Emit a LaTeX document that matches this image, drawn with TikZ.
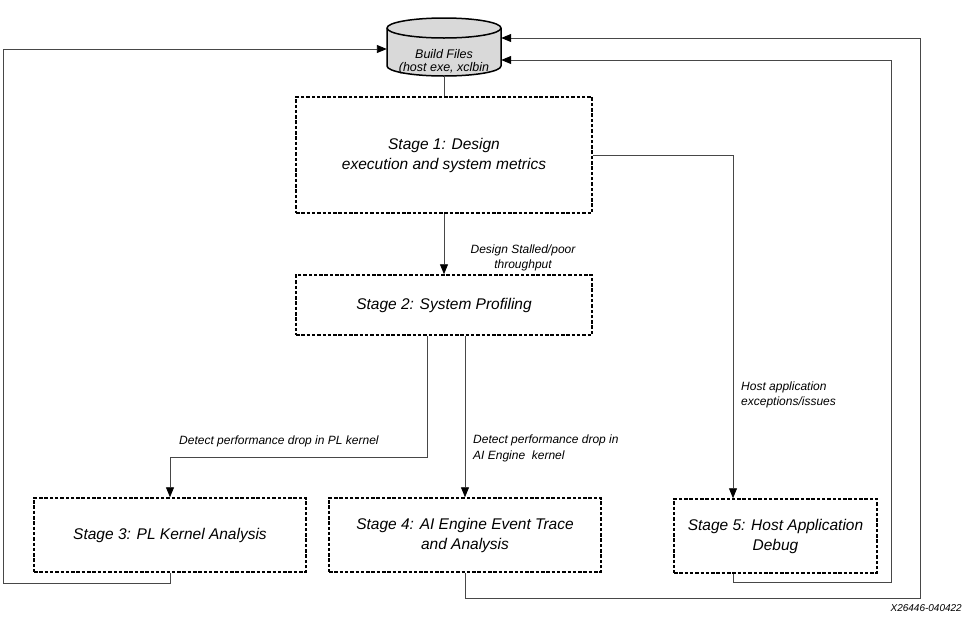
\documentclass[tikz,border=0pt]{standalone}
\usepackage{fontspec}
\setmainfont{Liberation Sans}
\usepackage{tikz}
\usetikzlibrary{arrows.meta}
\usetikzlibrary{positioning}
\usetikzlibrary{calc}

\begin{document}
\begin{tikzpicture}[
    x=1pt, y=-1pt,
    stage/.style={draw=black, line width=1.5pt, dash pattern=on 3.5pt off 1.8pt,
        align=center, inner sep=0pt, font=\fontsize{15.5}{20}\selectfont\itshape},
    conn/.style={draw=black!72, line width=0.9pt},
    tip/.style={-{Triangle[length=10pt, width=8pt, color=black]}},
    lbl/.style={font=\fontsize{12}{15.5}\selectfont\itshape, inner sep=0pt}]

\useasboundingbox (0,0) rectangle (972,630);

% Nodes
\node[minimum width=114pt, minimum height=58pt, inner sep=0pt] (build) at (444,47) {};
\fill[black!15] (387,28) -- (387,66) arc (180:360:57pt and 10pt) -- (501,28) arc (0:180:57pt and 10pt) -- cycle;
\draw[line width=1.5pt] (387,28) -- (387,66) arc (180:360:57pt and 10pt) -- (501,28) arc (0:180:57pt and 10pt) -- cycle;
\draw[line width=1.5pt] (387,28) arc (180:360:57pt and 10pt);
\node[font=\fontsize{12.5}{13}\selectfont\itshape, align=center] (buildtxt) at (444,62) {Build Files\\(host exe, xclbin};

\node[stage, minimum width=296pt, minimum height=116pt] (stage1) at (444,155) {Stage 1: Design\\execution and system metrics};
\node[stage, minimum width=296pt, minimum height=60pt] (stage2) at (444,305) {Stage 2: System Profiling};
\node[stage, minimum width=272pt, minimum height=74pt] (stage3) at (170,535) {Stage 3: PL Kernel Analysis};
\node[stage, minimum width=272pt, minimum height=74pt] (stage4) at (465,535) {Stage 4: AI Engine Event Trace\\and Analysis};
\node[stage, minimum width=203pt, minimum height=74pt] (stage5) at (775.5,536) {Stage 5: Host Application\\Debug};

% Labels
\node[lbl, align=center] (lstall) at (523,258) {Design Stalled/poor\\throughput};
\node[lbl, anchor=west] (lpl) at (179,441) {Detect performance drop in PL kernel};
\node[lbl, anchor=west, align=left] (laie) at (473,448.5) {Detect performance drop in\\AI Engine\ \ kernel};
\node[lbl, anchor=west, align=left] (lhost) at (741,395) {Host application\\exceptions/issues};
\node[font=\fontsize{10}{12}\selectfont\itshape, anchor=east, inner sep=0pt] (stamp) at (962,608) {X26446-040422};

% Arrows
\draw[conn] (build.south) -- (stage1.north);
\draw[conn, tip] (stage1.south) -- (stage2.north);
\draw[conn, tip] ([xshift=-17pt]stage2.south) -- ++(0,122) -| (stage3.north);
\draw[conn, tip] (stage2.south -| stage4.north) -- (stage4.north);
\draw[conn, tip] (stage1.east) -| ([xshift=-42.5pt]stage5.north);
\draw[conn, tip] (stage3.south) -- ++(0,11) -- ++(-167,0) |- ([yshift=-2pt]build.west);
\draw[conn, tip] (stage4.south) -- ++(0,26) -- ++(455,0) |- ([yshift=9pt]build.east);
\draw[conn, tip] ([xshift=-42.5pt]stage5.south) -- ++(0,9) -- ++(158,0) |- ([yshift=-13pt]build.east);
\end{tikzpicture}
\end{document}
